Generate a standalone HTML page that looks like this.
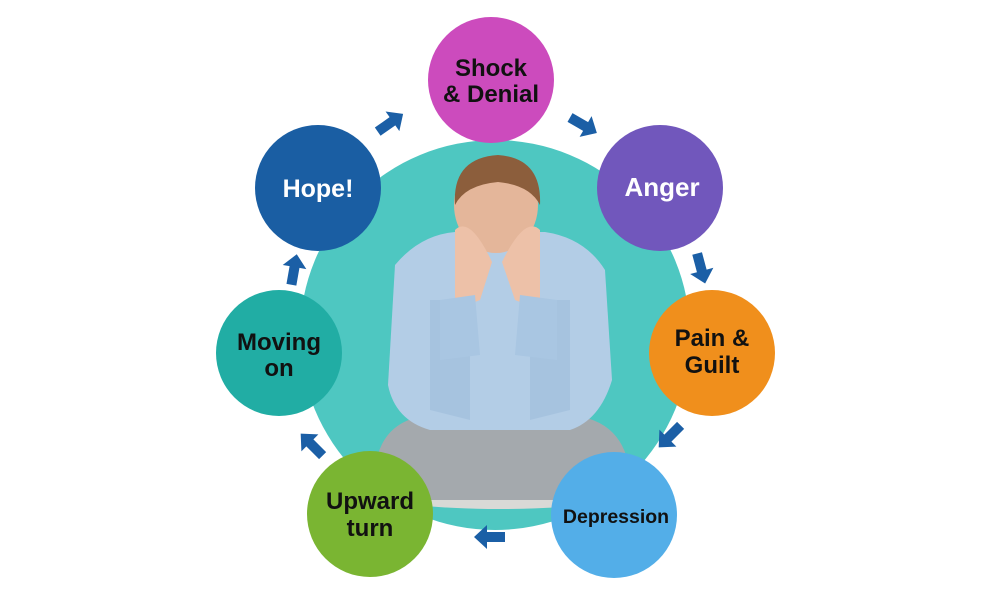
<!DOCTYPE html>
<html><head><style>
body{margin:0;background:#fff;width:1000px;height:600px;overflow:hidden}
svg{display:block}
text{font-family:"Liberation Sans",Arial,sans-serif;font-weight:bold;text-anchor:middle}
</style></head><body>
<svg width="1000" height="600" viewBox="0 0 1000 600">
<defs>
<g id="ar"><polygon points="-15,-5 3,-5 3,-12 16,0 3,12 3,5 -15,5" fill="#1b5fa6"/></g>
</defs>
<circle cx="495" cy="335" r="195" fill="#4ec7c1"/>
<ellipse cx="500" cy="495" rx="120" ry="14" fill="#d9d9d6"/>
<path d="M375,470 Q380,420 430,415 L570,415 Q625,420 630,475 L630,500 L375,500 Z" fill="#a4a9ad"/>
<path d="M395,265 Q420,235 455,232 L545,232 Q585,238 605,270 L612,380 Q600,420 570,430 L430,430 Q395,420 388,385 Z" fill="#b3cde6"/>
<path d="M430,300 L470,300 L470,420 L430,410 Z" fill="#a6c3df"/>
<path d="M530,300 L570,300 L570,410 L530,420 Z" fill="#a6c3df"/>
<ellipse cx="496" cy="205" rx="42" ry="48" fill="#e4b69a"/>
<path d="M455,205 Q452,158 498,155 Q542,158 540,205 Q530,185 498,182 Q465,185 455,205 Z" fill="#8c5e3c"/>
<path d="M455,230 Q470,215 492,262 L480,300 L455,310 Z" fill="#edc1a8"/>
<path d="M540,230 Q525,215 502,262 L515,300 L540,310 Z" fill="#edc1a8"/>
<path d="M440,300 L475,295 L480,355 L440,360 Z" fill="#a9c6e2"/>
<path d="M520,295 L557,300 L557,360 L515,355 Z" fill="#a9c6e2"/>
<circle cx="491" cy="80" r="63" fill="#cc4bbd"/>
<circle cx="660" cy="188" r="63" fill="#7157bc"/>
<circle cx="712" cy="353" r="63" fill="#f08f1c"/>
<circle cx="614" cy="515" r="63" fill="#53aee8"/>
<circle cx="370" cy="514" r="63" fill="#7ab532"/>
<circle cx="279" cy="353" r="63" fill="#21ada4"/>
<circle cx="318" cy="188" r="63" fill="#1a5ea3"/>
<text x="491" y="76" font-size="24" fill="#111">Shock</text>
<text x="491" y="102" font-size="24" fill="#111">&amp; Denial</text>
<text x="662" y="196" font-size="26" fill="#fff">Anger</text>
<text x="712" y="346" font-size="24" fill="#111">Pain &amp;</text>
<text x="712" y="373" font-size="24" fill="#111">Guilt</text>
<text x="616" y="523" font-size="19.5" fill="#111">Depression</text>
<text x="370" y="509" font-size="24" fill="#111">Upward</text>
<text x="370" y="536" font-size="24" fill="#111">turn</text>
<text x="279" y="350" font-size="24" fill="#111">Moving</text>
<text x="279" y="376" font-size="24" fill="#111">on</text>
<text x="318" y="197" font-size="25" fill="#fff">Hope!</text>
<use href="#ar" transform="translate(390,123) rotate(-35)"/>
<use href="#ar" transform="translate(583,125) rotate(30)"/>
<use href="#ar" transform="translate(701,268) rotate(75)"/>
<use href="#ar" transform="translate(670,436) rotate(135)"/>
<use href="#ar" transform="translate(490,537) rotate(180)"/>
<use href="#ar" transform="translate(312,445) rotate(225)"/>
<use href="#ar" transform="translate(294,270) rotate(-80)"/>
</svg>
</body></html>
